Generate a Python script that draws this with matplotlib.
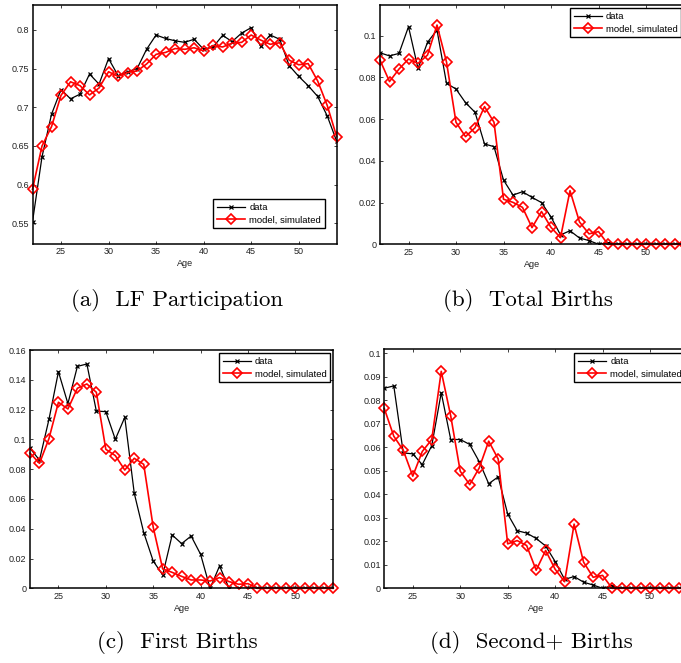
import matplotlib
matplotlib.use("Agg")
import matplotlib.pyplot as plt
import numpy as np

ages = list(range(22, 55))

lf_data = [0.552, 0.636, 0.691, 0.723, 0.711, 0.717, 0.743, 0.730, 0.763, 0.741,
           0.746, 0.750, 0.775, 0.7935, 0.789, 0.786, 0.784, 0.788, 0.775, 0.778,
           0.793, 0.785, 0.796, 0.803, 0.779, 0.7935, 0.788, 0.754, 0.740, 0.728,
           0.714, 0.689, 0.656]
lf_model = [0.594, 0.650, 0.675, 0.7155, 0.733, 0.728, 0.716, 0.725, 0.746, 0.740,
            0.745, 0.747, 0.756, 0.7685, 0.771, 0.776, 0.775, 0.777, 0.773, 0.780,
            0.778, 0.783, 0.784, 0.7935, 0.787, 0.7815, 0.7835, 0.761, 0.755, 0.7565,
            0.734, 0.7025, 0.662]

tot_data = [0.0918, 0.0903, 0.0915, 0.1043, 0.0843, 0.0968, 0.1027, 0.0772, 0.0744, 0.0679,
            0.0633, 0.0481, 0.0468, 0.0308, 0.0236, 0.0252, 0.0225, 0.0200, 0.0131, 0.0045,
            0.0065, 0.0030, 0.0018, 0.0, 0.0008, 0.0, 0.0, 0.0, 0.0, 0.0,
            0.0, 0.0, 0.0]
tot_model = [0.0883, 0.0780, 0.0840, 0.0888, 0.0867, 0.0907, 0.1051, 0.0874, 0.0585, 0.0516,
             0.0559, 0.0660, 0.0585, 0.0216, 0.0201, 0.0177, 0.0080, 0.0157, 0.0081, 0.0032,
             0.0257, 0.0107, 0.0050, 0.0061, 0.0, 0.0, 0.0, 0.0, 0.0, 0.0,
             0.0, 0.0, 0.0]

first_data = [0.094, 0.0861, 0.1134, 0.1454, 0.124, 0.149, 0.1506, 0.119, 0.1186, 0.100,
              0.1148, 0.0638, 0.0374, 0.0183, 0.009, 0.0358, 0.030, 0.0351, 0.0228, 0.0,
              0.015, 0.0, 0.0, 0.0, 0.0, 0.0, 0.0, 0.0, 0.0, 0.0,
              0.0, 0.0, 0.0]
first_model = [0.0908, 0.0839, 0.1005, 0.1249, 0.1204, 0.1343, 0.1372, 0.1316, 0.0933, 0.0891,
               0.0794, 0.0873, 0.0832, 0.041, 0.013, 0.0107, 0.008, 0.0056, 0.0056, 0.0049,
               0.0072, 0.0045, 0.0027, 0.0031, 0.0, 0.0, 0.0, 0.0, 0.0, 0.0,
               0.0, 0.0, 0.0]

second_data = [0.0851, 0.0861, 0.0576, 0.0572, 0.0526, 0.0607, 0.0832, 0.0633, 0.0633, 0.0612,
               0.0539, 0.0445, 0.0474, 0.0316, 0.0245, 0.0235, 0.0212, 0.018, 0.0114, 0.0038,
               0.005, 0.0026, 0.0014, 0.0, 0.0011, 0.0, 0.0, 0.0, 0.0, 0.0,
               0.0, 0.0, 0.0]
second_model = [0.0765, 0.0647, 0.0587, 0.0477, 0.0582, 0.0633, 0.0923, 0.0733, 0.0498, 0.0441,
                0.0512, 0.0626, 0.055, 0.0189, 0.0203, 0.0182, 0.0077, 0.0161, 0.0081, 0.0028,
                0.0273, 0.0111, 0.0047, 0.0055, 0.0, 0.0, 0.0, 0.0, 0.0, 0.0,
                0.0, 0.0, 0.0]

captions = ["(a)  LF Participation", "(b)  Total Births", "(c)  First Births", "(d)  Second+ Births"]
legend_labels = ["data", "model, simulated"]
x_label = "Age"

W, H = 681, 663
fig = plt.figure(figsize=(W / 100, H / 100), dpi=100)
plt.rcParams['font.family'] = ['Liberation Sans', 'DejaVu Sans']

def px_axes(l, r, t, b):
    return fig.add_axes([l / W, 1 - b / H, (r - l) / W, (b - t) / H])

panels = [
    dict(box=(32.5, 336.7, 5, 243.5), data=lf_data, model=lf_model,
         ylim=(0.5239, 0.8323), yticks=np.arange(0.55, 0.801, 0.05),
         ytl=["0.55", "0.6", "0.65", "0.7", "0.75", "0.8"],
         leg=(213.3, 199.3), cap=(176.8, 301)),
    dict(box=(380, 684, 5, 244.3), data=tot_data, model=tot_model,
         ylim=(0, 0.1147), yticks=np.arange(0, 0.101, 0.02),
         ytl=["0", "0.02", "0.04", "0.06", "0.08", "0.1"],
         leg=(570, 8.5), cap=(527.5, 301)),
    dict(box=(30, 333.3, 350, 588.3), data=first_data, model=first_model,
         ylim=(0, 0.16), yticks=np.arange(0, 0.161, 0.02),
         ytl=["0", "0.02", "0.04", "0.06", "0.08", "0.1", "0.12", "0.14", "0.16"],
         leg=(219, 353.3), cap=(177, 643)),
    dict(box=(384.3, 688, 349, 588.3), data=second_data, model=second_model,
         ylim=(0, 0.1018), yticks=np.arange(0, 0.1001, 0.01),
         ytl=["0", "0.01", "0.02", "0.03", "0.04", "0.05", "0.06", "0.07", "0.08", "0.09", "0.1"],
         leg=(574.3, 353.3), cap=(531, 643)),
]

for i, p in enumerate(panels):
    ax = px_axes(*p["box"])
    ax.plot(ages, p["data"], color="black", lw=0.9, marker="x", ms=2.5, mew=0.9,
            label=legend_labels[0], clip_on=True)
    ax.plot(ages, p["model"], color="red", lw=1.2, marker="D", ms=5, mew=1.2,
            mfc="none", label=legend_labels[1], clip_on=False)
    ax.set_xlim(22, 54)
    ax.set_ylim(*p["ylim"])
    ax.set_xticks([25, 30, 35, 40, 45, 50])
    ax.set_xticklabels(["25", "30", "35", "40", "45", "50"])
    ax.set_yticks(p["yticks"])
    ax.set_yticklabels(p["ytl"])
    ax.tick_params(direction="in", length=2.5, width=0.6, top=True, right=True,
                   labelsize=6.5, colors="#222222", pad=2.5)
    for s in ax.spines.values():
        s.set_linewidth(1.1)
    ax.set_xlabel(x_label, fontsize=6.5, color="#222222", labelpad=2)
    lx, ly = p["leg"]
    leg = ax.legend(loc="upper left", bbox_to_anchor=(lx / W, 1 - ly / H),
                    bbox_transform=fig.transFigure, fontsize=6.8, frameon=True,
                    fancybox=False, edgecolor="black", framealpha=1, borderpad=0.4,
                    handlelength=3.0, handletextpad=0.4, labelspacing=0.35,
                    borderaxespad=0)
    leg.get_frame().set_linewidth(1.0)
    fig.text(p["cap"][0] / W, 1 - p["cap"][1] / H, captions[i], fontsize=16.5,
             family="cmr10", ha="center", va="center")

fig.savefig("out.png", dpi=100)
